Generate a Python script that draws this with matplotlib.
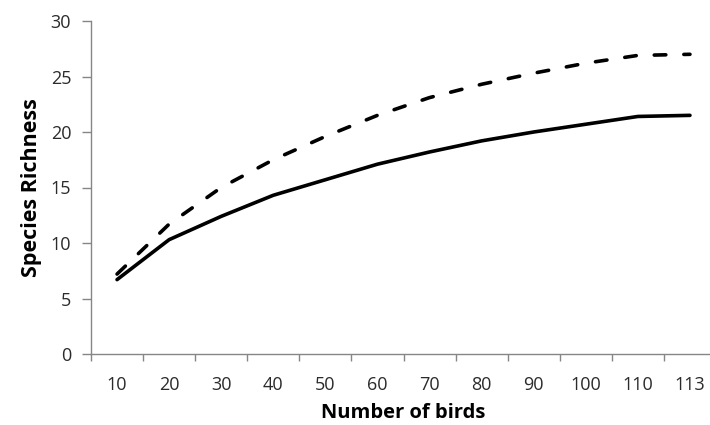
import matplotlib
matplotlib.use("Agg")
import matplotlib.pyplot as plt
from matplotlib.ticker import FixedLocator, NullFormatter

categories = ["10", "20", "30", "40", "50", "60", "70", "80", "90", "100", "110", "113"]
solid_values = [6.7, 10.3, 12.4, 14.3, 15.7, 17.1, 18.2, 19.2, 20.0, 20.7, 21.4, 21.5]
dashed_values = [7.2, 11.7, 15.0, 17.5, 19.6, 21.5, 23.1, 24.3, 25.3, 26.2, 26.9, 27.0]
y_ticks = [0, 5, 10, 15, 20, 25, 30]

plt.rcParams['font.family'] = ['Open Sans', 'DejaVu Sans']

fig = plt.figure(figsize=(7.10, 4.25), dpi=100)
ax = fig.add_axes([91/710, 1-354/425, (716-91)/710, (354-21)/425])

x = list(range(len(categories)))
ax.plot(x, solid_values, color='black', lw=2.6, solid_capstyle='round', solid_joinstyle='round')
ax.plot(x, dashed_values, color='black', lw=2.6, dashes=(3.2, 5.0), dash_capstyle='round')

ax.set_xlim(-0.5, len(categories) - 0.5)
ax.set_ylim(0, 30)
ax.set_yticks(y_ticks)
ax.set_xticks(x)
ax.set_xticklabels(categories)
ax.xaxis.set_minor_locator(FixedLocator([i - 0.5 for i in range(len(categories) + 1)]))
ax.xaxis.set_minor_formatter(NullFormatter())

spine_color = '#868686'
for s in ['top', 'right']:
    ax.spines[s].set_visible(False)
for s in ['left', 'bottom']:
    ax.spines[s].set_color(spine_color)
    ax.spines[s].set_linewidth(1.0)

ax.tick_params(axis='x', which='major', length=0, pad=16, labelsize=13, labelcolor='#2b2b2b')
ax.tick_params(axis='x', which='minor', length=4.8, color=spine_color, width=1.0)
ax.tick_params(axis='y', which='major', length=6.3, color=spine_color, width=1.0, pad=8,
               labelsize=13, labelcolor='#2b2b2b')

ax.set_xlabel('Number of birds', fontsize=14.5, fontweight='bold', labelpad=6)
ax.set_ylabel('Species Richness', fontsize=15.5, fontweight='bold', labelpad=6)

fig.savefig('out.png', dpi=100)
